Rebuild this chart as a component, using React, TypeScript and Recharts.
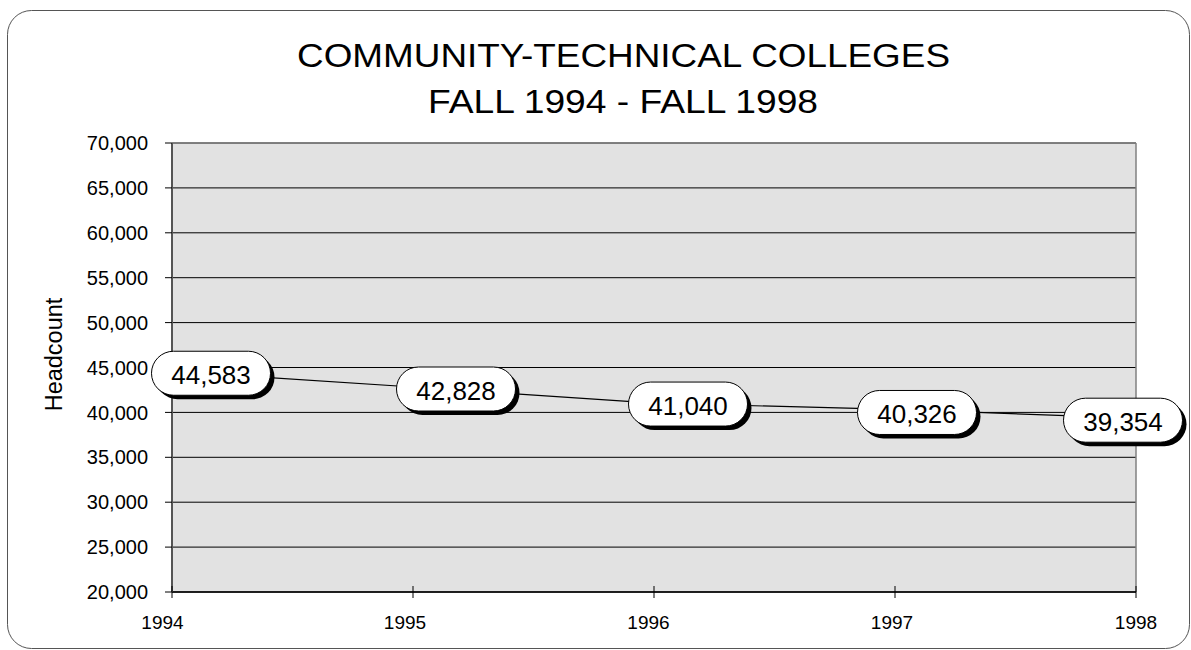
import React from 'react';
import { LineChart, Line, XAxis, YAxis, CartesianGrid, ReferenceLine } from 'recharts';

const years = [1994, 1995, 1996, 1997, 1998];
const headcount = [44583, 42828, 41040, 40326, 39354];
const yTicks = [20000, 25000, 30000, 35000, 40000, 45000, 50000, 55000, 60000, 65000, 70000];
const titleLines = ['COMMUNITY-TECHNICAL COLLEGES', 'FALL 1994 - FALL 1998'];
const yAxisTitle = 'Headcount';

// label placement tweaks (pixels, styling only)
const labelDx = [39, 43, 34, 22, -13];
const labelDy = [2, 2, 1, 3, 2];
const xTickDx = [-9.5, -8, -5.5, -3, 0];

const data = years.map((year, i) => ({ year, value: headcount[i] }));
const FONT = '"Liberation Sans", Arial, sans-serif';
const fmt = (v: number) => Number(v).toLocaleString('en-US');

const PillLabel = (props: any) => {
  const { x, y, value, index } = props;
  const cx = x + (labelDx[index] ?? 0);
  const cy = y + (labelDy[index] ?? 0);
  const w = 119;
  const h = 44;
  return (
    <g>
      <rect x={cx - w / 2 + 4} y={cy - h / 2 + 4} width={w} height={h} rx={h / 2} fill="#000" />
      <rect x={cx - w / 2} y={cy - h / 2} width={w} height={h} rx={h / 2} fill="#fff" stroke="#000" strokeWidth={1} />
      <text x={cx} y={cy + 2} textAnchor="middle" dominantBaseline="central" fontSize={26} fontFamily={FONT} fill="#000">
        {fmt(value)}
      </text>
    </g>
  );
};

const XTick = (props: any) => {
  const { x, y, payload, index } = props;
  return (
    <g>
      <line x1={x} x2={x} y1={y - 6} y2={y + 6} stroke="#000" strokeWidth={1} />
      <text x={x + (xTickDx[index] ?? 0)} y={y + 37} textAnchor="middle" fontSize={19} fontFamily={FONT} fill="#000">
        {payload.value}
      </text>
    </g>
  );
};

export default function App() {
  return (
    <div style={{ position: 'relative', width: 1191, height: 650, background: '#fff' }}>
      <style>{'body{margin:0;}'}</style>
      <LineChart width={1191} height={650} data={data} margin={{ top: 143, right: 55, bottom: 0, left: 0 }}>
        <CartesianGrid vertical={false} horizontal={true} stroke="#000" strokeWidth={1} fill="#e2e2e2" fillOpacity={1} />
        <ReferenceLine y={70000} stroke="#808080" strokeWidth={1.5} />
        <ReferenceLine x={1998} stroke="#808080" strokeWidth={1.5} />
        <XAxis
          dataKey="year"
          type="number"
          domain={[1994, 1998]}
          ticks={years}
          height={58}
          tickSize={0}
          tickMargin={0}
          tickLine={false}
          axisLine={{ stroke: '#000', strokeWidth: 1.5 }}
          tick={<XTick />}
          interval={0}
        />
        <YAxis
          type="number"
          domain={[20000, 70000]}
          ticks={yTicks}
          width={172}
          tickSize={7}
          tickMargin={17}
          interval={0}
          tickLine={{ stroke: '#000' }}
          axisLine={{ stroke: '#555', strokeWidth: 2 }}
          tickFormatter={fmt}
          tick={{ fontSize: 20, fill: '#000', fontFamily: FONT }}
        />
        <Line
          type="linear"
          dataKey="value"
          stroke="#000"
          strokeWidth={1.2}
          dot={false}
          isAnimationActive={false}
          label={(p: any) => <PillLabel {...p} />}
        />
      </LineChart>
      <svg width={1191} height={650} style={{ position: 'absolute', left: 0, top: 0, pointerEvents: 'none' }}>
        <rect x={7.5} y={10.5} width={1182} height={638} rx={24} fill="none" stroke="#555" strokeWidth={1} />
        <text x={623.5} y={66.5} textAnchor="middle" fontSize={33.5} fontFamily={FONT} fill="#000" textLength={653} lengthAdjust="spacingAndGlyphs">
          {titleLines[0]}
        </text>
        <text x={623} y={112.5} textAnchor="middle" fontSize={33.5} fontFamily={FONT} fill="#000" textLength={390} lengthAdjust="spacingAndGlyphs">
          {titleLines[1]}
        </text>
        <text x={62} y={354.5} transform="rotate(-90 62 354.5)" textAnchor="middle" fontSize={23.5} fontFamily={FONT} fill="#000">
          {yAxisTitle}
        </text>
      </svg>
    </div>
  );
}
